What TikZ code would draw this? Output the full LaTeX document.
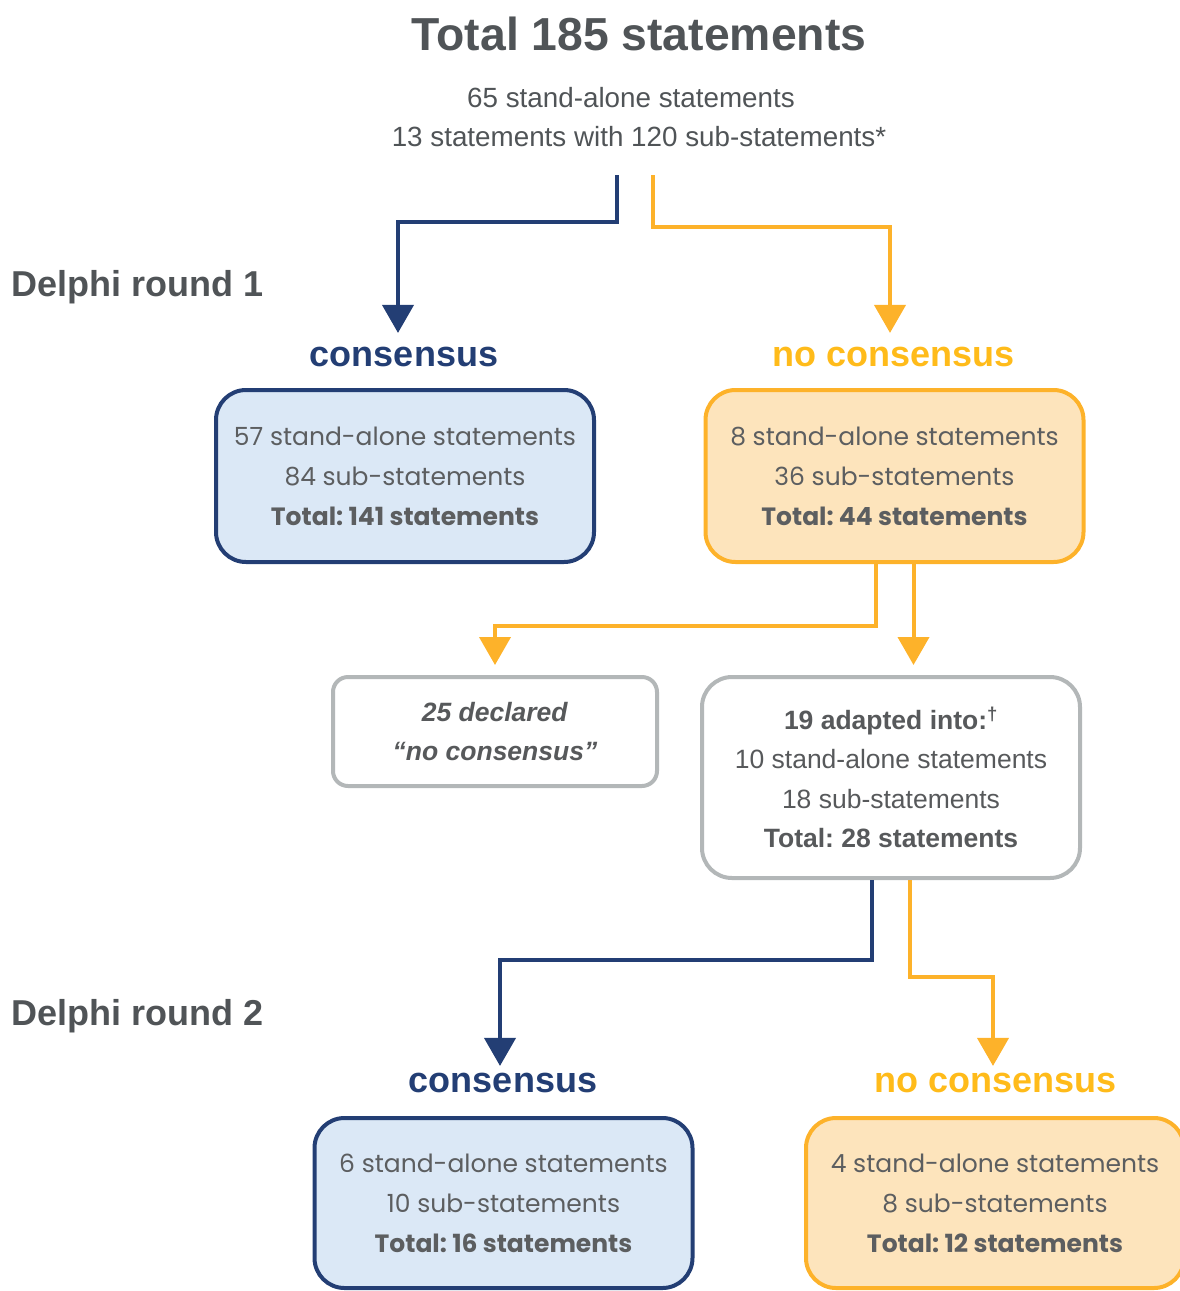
\documentclass[tikz,border=0pt]{standalone}
\usepackage{fontspec}
\setmainfont{Liberation Sans}
\newfontfamily\gothic{Poppins}
\usetikzlibrary{arrows.meta,calc}
\definecolor{navy}{HTML}{233E74}
\definecolor{orng}{HTML}{FDB22A}
\definecolor{yel}{HTML}{FFBB1A}
\definecolor{lblue}{HTML}{DBE8F6}
\definecolor{lorng}{HTML}{FDE4BC}
\definecolor{gbord}{HTML}{B3B7B8}
\definecolor{txt}{HTML}{57595B}
\definecolor{gtxt}{HTML}{5C5E60}
\definecolor{dtxt}{HTML}{505457}
\frenchspacing
\begin{document}
\begin{tikzpicture}[x=1pt,y=-1pt,
  box/.style={rounded corners=30pt, line width=4pt, minimum width=378pt, minimum height=172pt,
    align=center, inner sep=0pt, text=gtxt, font=\gothic\fontsize{25}{40}\selectfont},
  cbox/.style={box, draw=navy, fill=lblue},
  nbox/.style={box, draw=orng, fill=lorng},
  gbox/.style={box, draw=gbord, fill=white, text=txt, font=\fontsize{26.5}{39.5}\selectfont},
  lab/.style={inner sep=0pt, font=\bfseries\fontsize{36}{40}\selectfont},
  head/.style={inner sep=0pt, text=dtxt, font=\bfseries\fontsize{36}{40}\selectfont, anchor=base west},
  sub/.style={inner sep=0pt, text=dtxt, font=\fontsize{27.8}{34}\selectfont, anchor=base},
  navyarr/.style={draw=navy, line width=4pt, -{Triangle[width=31pt,length=28pt]}},
  orarr/.style={draw=orng, line width=4pt, -{Triangle[width=31pt,length=28pt]}}
]
\useasboundingbox (0,0) rectangle (1179,1291);

\node[inner sep=0pt, text=dtxt, font=\bfseries\fontsize{46.3}{50}\selectfont, anchor=base] (title) at (639,50) {Total 185 statements};
\node[sub] (sub1) at (631,107) {65 stand-alone statements};
\node[sub] (sub2) at (639,146) {13 statements with 120 sub-statements*};

\node[head] (r1) at (11,296) {Delphi round 1};
\node[head] (r2) at (11,1025) {Delphi round 2};

\node[lab, text=navy] (l1c) at (404,357) {consensus};
\node[lab, text=yel] (l1n) at (894,357) {no consensus};

\node[cbox] (c1) at (405,476) {57 stand-alone statements\\84 sub-statements\\\textbf{Total: 141 statements}};
\node[nbox] (n1) at (894.5,476) {8 stand-alone statements\\36 sub-statements\\\textbf{Total: 44 statements}};

\node[gbox, minimum width=324pt, minimum height=109pt, rounded corners=15pt] (decl) at (495,731.5)
  {\textbf{\textit{25 declared}}\\\textbf{\textit{“no consensus”}}};
\node[gbox, minimum height=201pt] (adapt) at (891,777.5)
  {\textbf{19 adapted into:\textsuperscript{†}}\\10 stand-alone statements\\18 sub-statements\\\textbf{Total: 28 statements}};

\node[lab, text=navy] (l2c) at (503,1083) {consensus};
\node[lab, text=yel] (l2n) at (996,1083) {no consensus};

\node[cbox, minimum height=170pt] (c2) at (503.5,1203) {6 stand-alone statements\\10 sub-statements\\\textbf{Total: 16 statements}};
\node[nbox, minimum height=170pt] (n2) at (995,1203) {4 stand-alone statements\\8 sub-statements\\\textbf{Total: 12 statements}};

\coordinate (s1) at (617,175);
\coordinate (s2) at (653,175);
\draw[navyarr, shorten >=14pt] (s1) -- ++(0,47) -| ($(l1c.north)+(-6,0)$);
\draw[orarr, shorten >=14pt] (s2) -- ++(0,52) -| ($(l1n.north)+(-4,0)$);

\draw[orarr, shorten >=10pt] ($(n1.south)+(-19,0)$) -- ++(0,62) -| (decl.north);
\draw[orarr, shorten >=10pt] ($(n1.south)+(19,0)$) coordinate (q1) -- (q1 |- adapt.north);

\draw[navyarr, shorten >=7pt] ($(adapt.south)+(-19,0)$) -- ++(0,80) -| ($(l2c.north)+(-3,0)$);
\draw[orarr, shorten >=7pt] ($(adapt.south)+(19,0)$) -- ++(0,97) -| ($(l2n.north)+(-3,0)$);
\end{tikzpicture}
\end{document}
